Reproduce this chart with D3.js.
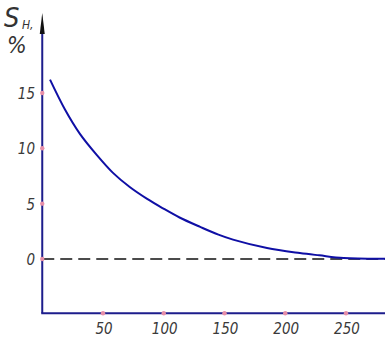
<!DOCTYPE html>
<html><head><meta charset="utf-8">
<script src="https://cdn.jsdelivr.net/npm/d3@7"></script>
<style>body{margin:0;background:#fff}svg{display:block}</style>
</head><body>
<script>
const xData = [6.4, 18.7, 31, 44.8, 58, 72, 86, 99, 113, 130, 145, 157, 185, 212, 228, 248, 283];
const yData = [16.2, 13.5, 11.3, 9.4, 7.8, 6.5, 5.45, 4.6, 3.75, 2.9, 2.2, 1.75, 0.99, 0.54, 0.33, 0.09, 0.03];
const xTicks = [50, 100, 150, 200, 250];
const yTicks = [0, 5, 10, 15];

const W = 385, H = 339;
const svg = d3.select("body").append("svg").attr("width", W).attr("height", H);
const x = d3.scaleLinear().domain([0, 50]).range([42.25, 103]);
const y = d3.scaleLinear().domain([0, 5]).range([259, 203.65]);
const axisColor = "#1d1d8c";
const font = "'DejaVu Sans Condensed', 'DejaVu Sans', sans-serif";

// dashed zero line
svg.append("line").attr("x1", x(0)).attr("x2", W).attr("y1", y(0)).attr("y2", y(0))
  .attr("stroke", "#111").attr("stroke-width", 1.3).attr("stroke-dasharray", "12,6");

// curve
const pts = xData.map((d, i) => [d, yData[i]]);
svg.append("path").datum(pts)
  .attr("d", d3.line().x(d => x(d[0])).y(d => y(d[1])).curve(d3.curveCatmullRom.alpha(0.5)))
  .attr("fill", "none").attr("stroke", "#0f0fa5").attr("stroke-width", 2);

// axes
const yBottom = y(-4.9);
svg.append("line").attr("x1", x(0)).attr("x2", x(0)).attr("y1", yBottom).attr("y2", 30)
  .attr("stroke", axisColor).attr("stroke-width", 2);
svg.append("line").attr("x1", x(0) - 1).attr("x2", W).attr("y1", yBottom).attr("y2", yBottom)
  .attr("stroke", axisColor).attr("stroke-width", 2);
svg.append("path").attr("d", `M${x(0)},13 L${x(0) - 2.5},34 L${x(0) + 2.5},34 Z`).attr("fill", "#111");

// tick markers
svg.selectAll(".yt").data(yTicks).join("circle").attr("cx", x(0)).attr("cy", d => y(d)).attr("r", 2.2).attr("fill", "#e88fa8");
svg.selectAll(".xt").data(xTicks).join("circle").attr("cx", d => x(d)).attr("cy", yBottom).attr("r", 2.2).attr("fill", "#e88fa8");

// tick labels
svg.selectAll(".yl").data(yTicks).join("text")
  .attr("x", 35).attr("y", d => y(d) + 6).attr("text-anchor", "end")
  .attr("font-family", font).attr("font-style", "italic").attr("font-size", 15).attr("fill", "#3a3a3a")
  .text(d => d);
svg.selectAll(".xl").data(xTicks).join("text")
  .attr("x", d => x(d) + 1).attr("y", yBottom + 21).attr("text-anchor", "middle")
  .attr("font-family", font).attr("font-style", "italic").attr("font-size", 15).attr("fill", "#3a3a3a")
  .text(d => d);

// axis title
svg.append("text").attr("x", 4).attr("y", 27).attr("font-family", font).attr("font-style", "italic")
  .attr("font-size", 27).attr("fill", "#333").text("S");
svg.append("text").attr("x", 22).attr("y", 29).attr("font-family", font).attr("font-style", "italic")
  .attr("font-size", 12).attr("fill", "#333").text("H,");
svg.append("text").attr("x", 7).attr("y", 53).attr("font-family", font).attr("font-style", "italic")
  .attr("font-size", 23).attr("fill", "#333").text("%");
</script>
</body></html>
